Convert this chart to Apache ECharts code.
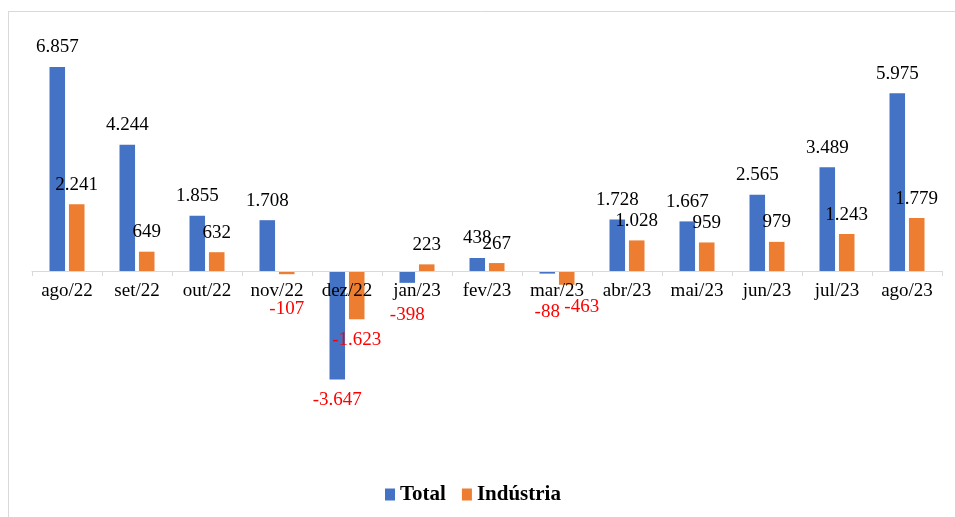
<!DOCTYPE html>
<html>
<head>
<meta charset="utf-8">
<script src="https://cdn.jsdelivr.net/npm/echarts@6/dist/echarts.min.js"></script>
<style>html,body{margin:0;padding:0;background:#fff}#c{width:955px;height:517px}</style>
</head>
<body>
<div id="c"></div>
<script>
const categories = ['ago/22','set/22','out/22','nov/22','dez/22','jan/23','fev/23','mar/23','abr/23','mai/23','jun/23','jul/23','ago/23'];
const totalValues = [6857, 4244, 1855, 1708, -3647, -398, 438, -88, 1728, 1667, 2565, 3489, 5975];
const industriaValues = [2241, 649, 632, -107, -1623, 223, 267, -463, 1028, 959, 979, 1243, 1779];
const seriesNames = ['Total', 'Indústria'];

const FONT = '"Liberation Serif", "Times New Roman", serif';
const fmt = v => {
  const s = Math.abs(v).toString().replace(/\B(?=(\d{3})+(?!\d))/g, '.');
  return (v < 0 ? '-' : '') + s;
};

const chart = echarts.init(document.getElementById('c'));

function labelCfg() {
  return {
    show: true,
    position: 'top',
    distance: 10,
    fontFamily: FONT,
    fontSize: 19,
    color: '#000',
    formatter: p => fmt(p.value)
  };
}

// label nudges (style only), keyed by series then category index
const labelNudge = { 0: { 5: [0, 6], 7: [0, 3] }, 1: { 7: [15, -2] } };

function buildData(vals, si, distFn) {
  return vals.map((v, i) => {
    if (v >= 0) return { value: v };
    const lab = { position: 'bottom', color: '#ff0000', distance: distFn ? distFn(v) : 12 };
    if (labelNudge[si] && labelNudge[si][i]) lab.offset = labelNudge[si][i];
    return { value: v, label: lab };
  });
}

const option = {
  animation: false,
  backgroundColor: '#fff',
  graphic: [
    { type: 'line', shape: { x1: 8, y1: 11.5, x2: 955, y2: 11.5 }, style: { stroke: '#d9d9d9', lineWidth: 1 } },
    { type: 'line', shape: { x1: 8.5, y1: 11, x2: 8.5, y2: 517 }, style: { stroke: '#d9d9d9', lineWidth: 1 } }
  ],
  grid: { left: 32, right: 13, top: 33, height: 357, containLabel: false },
  legend: {
    data: seriesNames,
    left: 380,
    top: 479,
    icon: 'rect',
    itemWidth: 10,
    itemHeight: 12,
    itemGap: 16,
    textStyle: { fontFamily: FONT, fontSize: 21, fontWeight: 'bold', color: '#000' }
  },
  xAxis: {
    type: 'category',
    data: categories,
    z: 3,
    position: 'bottom',
    offset: 0,
    axisLine: { show: true, onZero: false, lineStyle: { color: '#d9d9d9', width: 1 } },
    axisTick: { show: true, length: 5, lineStyle: { color: '#d9d9d9' } },
    axisLabel: { fontFamily: FONT, fontSize: 19, color: '#000', margin: 11, interval: 0 }
  },
  yAxis: {
    type: 'value',
    min: -4000,
    max: 8000,
    axisLine: { show: false },
    axisTick: { show: false },
    axisLabel: { show: false },
    splitLine: { show: false }
  },
  series: [
    {
      name: seriesNames[0], type: 'bar', data: buildData(totalValues, 0),
      itemStyle: { color: '#4472c4' },
      barGap: '25%', barCategoryGap: '50%',
      label: labelCfg()
    },
    {
      name: seriesNames[1], type: 'bar', data: buildData(industriaValues, 1),
      itemStyle: { color: '#ed7d31' },
      barGap: '25%', barCategoryGap: '50%',
      label: labelCfg()
    }
  ]
};
chart.setOption(option);

// place the category axis on the zero line, keep negative labels clear of it
const zeroPx = chart.convertToPixel({ yAxisIndex: 0 }, 0);
const bottomPx = chart.convertToPixel({ yAxisIndex: 0 }, -4000);
const distFn = v => {
  const px = chart.convertToPixel({ yAxisIndex: 0 }, v);
  return Math.max(11, 300 - px);
};
chart.setOption({
  xAxis: { offset: zeroPx - bottomPx },
  series: [
    { data: buildData(totalValues, 0, distFn) },
    { data: buildData(industriaValues, 1, distFn) }
  ]
});
</script>
</body>
</html>
